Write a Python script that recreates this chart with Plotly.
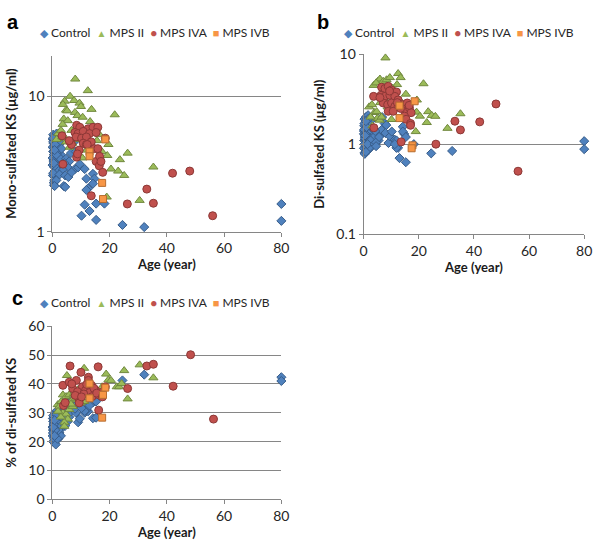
import plotly.graph_objects as go

# ---- data ----
# Control (shared ages, values per panel)
control_age = [0.1, 0.1, 0.2, 0.2, 0.3, 0.3, 0.4, 0.4, 0.5, 0.5,
               0.6, 0.6, 0.7, 0.8, 0.8, 0.9, 1.0, 1.0, 1.1, 1.2,
               1.2, 1.3, 1.4, 1.5, 1.5, 1.6, 1.7, 1.8, 1.9, 2.0,
               2.0, 2.1, 2.2, 2.3, 2.4, 2.5, 2.6, 2.7, 2.8, 3.0,
               0.1, 0.3, 0.5, 0.7, 0.9, 1.1, 1.3, 1.6, 1.8, 2.2,
               2.6, 3.2, 0.2, 0.4, 0.6, 1.0, 1.4, 0.8, 0.5, 0.3,
               4.8, 5.9, 6.5, 7.6, 8.2, 5.4, 3.7, 2.5, 1.4, 0.8,
               4.0, 4.2, 4.5, 5.6, 7.9, 9.0, 9.6, 11.3, 11.9, 12.5,
               11.9, 14.2, 14.7, 14.2, 11.3, 13.0, 15.3, 18.2, 10.2, 15.3,
               24.5, 32.1, 80, 80, 6.7, 4.5]
control_mono = [4.2, 3.1, 4.8, 2.6, 3.9, 5.2, 3.4, 4.5, 2.3, 3.7,
                4.9, 3.0, 4.1, 2.8, 5.0, 3.6, 4.4, 2.5, 3.9, 4.7,
                3.3, 2.9, 4.1, 5.3, 3.5, 4.0, 2.7, 4.6, 3.2, 3.8,
                5.1, 2.9, 4.3, 3.6, 4.8, 3.1, 4.0, 3.4, 4.5, 3.7,
                3.5, 4.6, 3.9, 2.4, 4.3, 3.0, 5.0, 3.8, 4.2, 2.8,
                3.5, 4.1, 4.9, 3.3, 2.2, 4.4, 3.7, 4.0, 3.2, 2.7,
                3.45, 3.3, 3.8, 4.6, 3.9, 2.98, 2.85, 2.64, 2.39, 2.17,
                2.17, 3.2, 2.6, 2.53, 2.9, 2.98, 3.15, 2.9, 2.46, 2.08,
                2.03, 2.67, 2.46, 2.26, 1.58, 1.42, 1.61, 1.61, 1.31, 1.22,
                1.12, 1.08, 1.6, 1.2, 2.74, 2.14]
control_di = [1.3, 0.9, 1.6, 1.1, 1.9, 0.8, 1.4, 1.2, 1.0, 1.7,
              1.5, 0.95, 1.25, 2.0, 1.1, 1.35, 0.85, 1.55, 1.8, 1.05,
              1.45, 1.15, 0.9, 1.65, 1.3, 2.1, 1.0, 1.4, 1.2, 1.75,
              0.88, 1.5, 1.1, 1.95, 1.3, 1.6, 0.98, 1.25, 1.85, 1.05,
              1.4, 1.7, 1.15, 0.82, 1.5, 1.0, 1.35, 1.9, 1.2, 0.92,
              1.6, 1.1, 1.45, 0.78, 1.3, 1.55, 1.05, 1.8, 1.25, 1.0,
              1.3, 1.25, 1.44, 1.7, 1.63, 1.1, 1.2, 1.1, 1.0, 0.82,
              1.0, 1.4, 1.05, 1.2, 1.33, 1.03, 1.22, 1.12, 1.1, 0.91,
              0.91, 1.56, 1.3, 1.38, 1.0, 0.7, 0.63, 1.0, 1.38, 1.2,
              0.79, 0.84, 1.08, 0.88, 2.0, 0.95]
control_pct = [25, 22, 28, 24, 27, 20, 26, 23, 29, 25,
               21, 27, 24, 30, 26, 22, 28, 23, 25, 27,
               19, 24, 26, 29, 22, 28, 25, 23, 27, 24,
               26, 21, 28, 25, 30, 23, 26, 24, 27, 22,
               25, 29, 24, 26, 23, 28, 25, 27, 21, 24,
               26, 31, 23, 25, 28, 24, 27, 22, 26, 25,
               27.4, 28.5, 30.5, 32.2, 30.0, 27.0, 29.6, 29.4, 29.5, 27.4,
               31.5, 30.4, 28.8, 32.2, 31.4, 26.7, 27.9, 30.0, 33.3, 30.5,
               31.0, 28.1, 34.5, 33.6, 30.6, 32.5, 33.9, 38.3, 31.6, 28.3,
               41.2, 43.2, 42.3, 41.0, 35.0, 25.5]

# MPS II
mps2_age_a = [8.0, 12.4, 6.2, 4.3, 3.7, 7.6, 9.5, 10.0, 4.8, 5.2,
              7.9, 8.8, 10.6, 13.7, 21.8, 4.0, 5.4, 3.6, 13.2, 6.7,
              2.5, 15.1, 9.1, 11.1, 15.6, 19.6, 4.8, 17.3, 19.2, 10.5,
              23.6, 26.3, 20.5, 23.0, 25.1, 35.3, 30.5, 19.0, 2.0, 3.0,
              6.0, 8.5, 12.0, 1.5, 4.5, 7.0, 16.5, 3.5]
mps2_mono = [13.4, 11.0, 10.0, 9.2, 8.7, 9.3, 8.9, 8.4, 7.9, 7.8,
             7.6, 7.2, 7.0, 8.0, 7.3, 6.8, 6.6, 6.2, 6.5, 5.6,
             5.4, 5.8, 6.0, 5.0, 4.7, 4.4, 4.6, 3.9, 3.65, 3.5,
             3.4, 3.8, 2.9, 2.8, 2.6, 3.0, 1.7, 1.8, 5.3, 5.6,
             4.2, 4.8, 4.0, 4.8, 4.9, 4.5, 5.2, 5.0]
mps2_age_b = [7.9, 5.1, 5.9, 7.1, 8.3, 9.5, 12.5, 13.4, 21.7, 3.6,
              4.5, 12.1, 15.3, 10.5, 2.0, 3.0, 3.9, 4.7, 4.9, 5.8,
              10.1, 18.9, 19.3, 19.2, 20.4, 23.4, 24.7, 26.0, 22.9, 30.4,
              35.1, 6.5, 3.2, 7.5, 9.0, 11.0, 6.0, 2.5, 8.7, 13.0]
mps2_di = [9.1, 5.0, 5.3, 5.0, 5.2, 5.5, 6.1, 5.5, 4.7, 4.5,
           4.8, 4.6, 3.6, 4.2, 2.6, 2.75, 2.25, 2.3, 1.93, 1.85,
           1.88, 1.38, 3.1, 2.27, 2.05, 2.3, 2.09, 2.04, 1.74, 1.5,
           2.18, 2.0, 1.6, 3.2, 3.8, 3.5, 2.9, 2.0, 2.6, 3.1]
mps2_age_c = [11.1, 5.1, 18.8, 25.1, 30.5, 35.3, 19.6, 20.5, 22.5, 23.3,
              24.2, 26.3, 17.4, 13.9, 12.8, 3.7, 4.8, 5.9, 7.1, 8.2,
              1.9, 2.5, 3.7, 4.8, 5.4, 4.2, 5.9, 7.1, 9.9, 11.1,
              3.1, 7.6, 4.2, 10.0, 6.5, 9.0, 2.0, 3.0]
mps2_pct = [45.4, 42.9, 43.4, 44.6, 46.6, 42.1, 41.4, 41.2, 39.0, 39.0,
            40.1, 34.8, 39.0, 39.5, 40.6, 36.2, 35.6, 36.2, 34.5, 35.0,
            32.8, 32.2, 30.0, 29.5, 27.8, 26.7, 31.1, 32.2, 33.4, 33.9,
            33.9, 36.7, 25.3, 36.0, 33.0, 38.0, 30.5, 28.5]

# MPS IVA
mps4a_age_a = [8.5, 9.6, 12.5, 14.2, 15.9, 7.9, 9.0, 10.8, 13.0, 15.3,
               8.3, 10.2, 11.9, 6.2, 6.7, 10.8, 11.9, 13.6, 14.7, 15.9,
               8.5, 15.3, 3.7, 16.4, 17.6, 13.6, 26.2, 33.0, 35.3, 42.0,
               48.0, 56.0, 18.5, 9.4, 8.8, 5.9, 3.4, 16.5, 17.0, 12.2]
mps4a_mono = [6.1, 5.9, 5.75, 5.9, 5.9, 5.4, 5.3, 5.5, 5.3, 5.4,
              5.0, 4.9, 5.0, 4.6, 4.4, 4.5, 4.4, 4.6, 4.1, 4.1,
              3.55, 3.3, 3.15, 3.06, 2.74, 1.84, 1.6, 2.06, 1.62, 2.7,
              2.8, 1.31, 4.9, 4.0, 3.75, 4.7, 5.1, 3.6, 3.3, 4.4]
mps4a_age_b = [3.6, 6.5, 7.7, 8.9, 10.1, 11.9, 6.3, 7.7, 9.5, 11.3,
               12.5, 7.1, 8.7, 10.1, 11.3, 12.5, 14.2, 15.8, 14.8, 16.6,
               17.2, 14.8, 15.4, 8.9, 10.7, 13.6, 17.0, 17.0, 26.2, 33.1,
               35.1, 42.1, 48.0, 56.0, 3.7, 9.4, 5.9, 12.2, 13.4, 16.5]
mps4a_di = [3.4, 4.3, 4.16, 4.4, 4.0, 3.8, 3.5, 3.4, 3.5, 3.4,
            3.1, 2.87, 2.75, 2.87, 2.63, 2.63, 2.75, 2.87, 2.43, 2.53,
            2.24, 2.05, 1.89, 2.32, 2.32, 1.06, 1.7, 1.62, 1.0, 1.8,
            1.44, 1.77, 2.8, 0.5, 1.52, 3.9, 3.3, 2.9, 2.5, 2.7]
mps4a_age_c = [3.7, 6.2, 16.0, 10.0, 12.6, 8.4, 5.9, 12.6, 10.5, 7.1,
               13.7, 11.6, 8.8, 9.4, 9.4, 3.9, 16.2, 15.1, 17.1, 16.2,
               26.3, 33.0, 35.3, 42.2, 48.3, 56.3, 13.0, 13.9, 18.5, 8.0,
               11.0, 14.5, 6.8, 12.0, 15.5, 10.2, 17.5, 4.5]
mps4a_pct = [39.5, 46.2, 45.9, 44.0, 42.3, 41.2, 40.6, 41.2, 39.0, 38.4,
             39.5, 37.8, 37.3, 34.5, 33.4, 32.5, 36.2, 37.8, 37.0, 30.9,
             38.4, 46.2, 46.8, 39.2, 50.1, 27.8, 37.0, 35.6, 39.0, 36.0,
             36.5, 38.5, 40.0, 39.8, 36.8, 35.5, 35.5, 33.5]

# MPS IVB
mps4b_age = [13.0, 13.0, 18.5, 17.7, 17.4]
mps4b_mono = [3.9, 3.6, 4.8, 1.74, 2.29]
mps4b_di = [2.68, 1.95, 3.0, 0.97, 0.9]
mps4b_pct = [40.1, 35.0, 38.7, 36.2, 28.3]

series_names = ['Control', 'MPS II', 'MPS IVA', 'MPS IVB']
fills = ['#4F81BD', '#9BBB59', '#C0504D', '#F79646']
lines = ['#385D8A', '#71893F', '#8C3836', '#B66D31']
symbols = ['diamond', 'triangle-up', 'circle', 'square']
sizes = [7, 8, 8, 7]

panels = [
    ('x', 'y', [(control_age, control_mono), (mps2_age_a, mps2_mono),
                (mps4a_age_a, mps4a_mono), (mps4b_age, mps4b_mono)]),
    ('x2', 'y2', [(control_age, control_di), (mps2_age_b, mps2_di),
                  (mps4a_age_b, mps4a_di), (mps4b_age, mps4b_di)]),
    ('x3', 'y3', [(control_age, control_pct), (mps2_age_c, mps2_pct),
                  (mps4a_age_c, mps4a_pct), (mps4b_age, mps4b_pct)]),
]

fig = go.Figure()
for xa, ya, data in panels:
    for i, (ages, vals) in enumerate(data):
        fig.add_trace(go.Scatter(
            x=ages, y=vals, mode='markers', name=series_names[i],
            xaxis=xa, yaxis=ya, showlegend=False, cliponaxis=False,
            marker=dict(symbol=symbols[i], size=sizes[i], color=fills[i],
                        line=dict(color=lines[i], width=1))
        ))

FONT = 'Lato'
gray = '#868686'
tickfont = dict(family=FONT, size=14, color='#262626')
titlefont = dict(family=FONT, size=13, color='#1a1a1a', weight='bold')

def xaxis(domain, anchor):
    return dict(domain=domain, anchor=anchor, range=[0, 80],
                tickvals=[0, 20, 40, 60, 80], showgrid=False, zeroline=False,
                showline=True, linecolor=gray, ticks='outside', ticklen=4,
                tickcolor=gray, tickfont=tickfont,
                title=dict(text='Age (year)', font=titlefont, standoff=0))

def yaxis(domain, anchor, title, standoff, **kw):
    d = dict(domain=domain, anchor=anchor, showgrid=True, gridcolor=gray,
             zeroline=False, showline=True, linecolor=gray, ticks='outside',
             ticklen=4, tickcolor=gray, tickfont=tickfont,
             title=dict(text=title, font=titlefont, standoff=standoff))
    d.update(kw)
    return d

fig.update_layout(
    width=602, height=548, autosize=False,
    margin=dict(l=0, r=0, t=0, b=0),
    paper_bgcolor='white', plot_bgcolor='white',
    xaxis=xaxis([0.0819, 0.4701], 'y'),
    yaxis=yaxis([0.5808, 0.9124], 'x', 'Mono-sulfated KS (µg/ml)', 8,
                type='log', range=[0, 1.301], tickvals=[1, 10]),
    xaxis2=xaxis([0.6096, 0.9834], 'y2'),
    yaxis2=yaxis([0.5761, 0.9148], 'x2', 'Di-sulfated KS (µg/ml)', 8,
                 type='log', range=[-1, 1], tickvals=[0.1, 1, 10],
                 ticktext=['0.1', '1', '10']),
    xaxis3=xaxis([0.0819, 0.4701], 'y3'),
    yaxis3=yaxis([0.0766, 0.4027], 'x3', '% of di-sulfated KS', 8,
                 range=[0, 60], dtick=10),
)

nb = '\u00a0'
def sym(color, glyph, size):
    return f'<span style="color:{color};font-size:{size}px">{glyph}</span>'

legend_text = (f'{sym(fills[0], "◆", 11)}{nb}Control{nb}{nb}'
               f'{sym(fills[1], "▲", 10)}{nb}MPS II{nb}{nb}'
               f'{sym(fills[2], "●", 11)}{nb}MPS IVA{nb}{nb}'
               f'{sym(fills[3], "■", 11)}{nb}MPS IVB')
legend_font = dict(family=FONT, size=12, color='#262626')
for cx, cy in [(154, 24), (464, 24), (154, 303)]:
    fig.add_annotation(x=cx / 602, y=1 - cy / 548, xref='paper', yref='paper',
                       text=legend_text, showarrow=False, font=legend_font,
                       xanchor='center', yanchor='middle')

letter_font = dict(family='Liberation Sans', size=20, color='black', weight='bold')
for letter, lx, ly in [('a', 1, 13), ('b', 317, 13), ('c', 6, 298)]:
    fig.add_annotation(x=lx / 602, y=1 - ly / 548, xref='paper', yref='paper',
                       text=letter, showarrow=False, font=letter_font,
                       xanchor='left', yanchor='middle')

fig.write_html('out.html', config={'displayModeBar': False},
               post_script="document.body.style.margin='0';"
                           "document.body.style.overflow='hidden';")
